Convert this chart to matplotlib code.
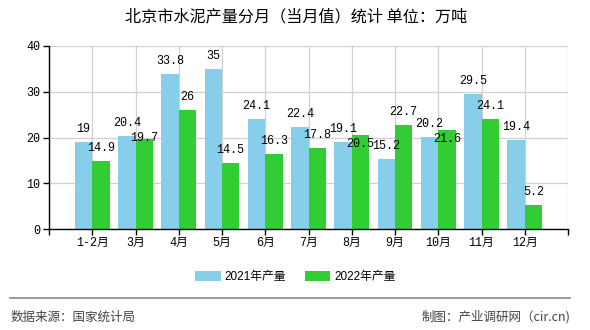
import matplotlib
matplotlib.use("Agg")
import matplotlib.pyplot as plt
from matplotlib.patches import Patch
import numpy as np

categories = ["1-2月", "3月", "4月", "5月", "6月", "7月", "8月", "9月", "10月", "11月", "12月"]
values_2021 = [19, 20.4, 33.8, 35, 24.1, 22.4, 19.1, 15.2, 20.2, 29.5, 19.4]
values_2022 = [14.9, 19.7, 26, 14.5, 16.3, 17.8, 20.5, 22.7, 21.6, 24.1, 5.2]
series_names = ["2021年产量", "2022年产量"]
y_ticks = [0, 10, 20, 30, 40]
title = "北京市水泥产量分月（当月值）统计 单位：万吨"
source_text = "数据来源：国家统计局"
maker_text = "制图：产业调研网（cir.cn)"

c2021 = "#87CEEB"
c2022 = "#32CD32"
cjk = ["Noto Sans CJK SC", "DejaVu Sans"]
mono = ["Liberation Mono", "Noto Sans CJK SC"]

DPI = 100
fig = plt.figure(figsize=(5.9, 3.3), dpi=DPI)
ax = fig.add_axes([49/590, 1-229/330, (568-49)/590, (229-46)/330])

x = np.arange(len(categories))
w = 0.4
b1 = ax.bar(x - w/2, values_2021, width=w, color=c2021, zorder=2)
b2 = ax.bar(x + w/2, values_2022, width=w, color=c2022, zorder=2)

ymax = 40
px_per_unit = (229 - 46) / ymax
off_px = 13.0
pt = 72.0 / DPI

for rect, v in zip(b1, values_2021):
    ax.annotate(f"{v:g}", (rect.get_x() + rect.get_width()/2, v),
                xytext=(0, off_px * pt), textcoords="offset points",
                ha="center", va="center", fontsize=8.5, family=mono, zorder=3)

for rect, v, vb in zip(b2, values_2022, values_2021):
    # simple overlap avoidance: shift green label below the blue one
    y_green = v * px_per_unit + off_px
    y_blue = vb * px_per_unit + off_px
    if abs(y_green - y_blue) < 14:
        dy = (y_blue - 15) - v * px_per_unit
    else:
        dy = off_px
    ax.annotate(f"{v:g}", (rect.get_x() + rect.get_width()/2, v),
                xytext=(0, dy * pt), textcoords="offset points",
                ha="center", va="center", fontsize=8.5, family=mono, zorder=3)

ax.set_xlim(-1, len(categories))
ax.set_ylim(0, ymax)
ax.set_xticks(np.arange(-1, len(categories) + 1))
ax.set_xticklabels([""] + categories + [""], family=mono, fontsize=8.5)
ax.set_yticks(y_ticks)
ax.set_yticklabels([str(t) for t in y_ticks], family=mono, fontsize=8.5)
ax.grid(True, color="#d0d0d0", linewidth=0.9, zorder=0)
ax.set_axisbelow(True)
for s in ("top", "right"):
    ax.spines[s].set_visible(False)
for s in ("left", "bottom"):
    ax.spines[s].set_color("#000000")
    ax.spines[s].set_linewidth(1.0)
ax.tick_params(axis="both", length=4, width=1, color="#000000", pad=2)

fig.text(296/590, 1-17/330, title, ha="center", va="center", fontsize=11.6, family=cjk)

handles = [Patch(facecolor=c2021), Patch(facecolor=c2022)]
fig.legend(handles, series_names, loc="center", bbox_to_anchor=(295/590, 1-277/330),
           ncol=2, frameon=False, prop={"family": ["Liberation Sans", "Noto Sans CJK SC"], "size": 8.5},
           handlelength=2.2, handleheight=1.0, handletextpad=0.3, columnspacing=1.6)

fig.add_artist(plt.Line2D([10/590, 570/590], [1-298/330, 1-298/330], color="#888888", linewidth=1.2))
fig.text(11/590, 1-317/330, source_text, ha="left", va="center", fontsize=9, family=cjk, color="#444444")
fig.text(570/590, 1-317/330, maker_text, ha="right", va="center", fontsize=9, family=cjk, color="#444444")

fig.savefig("out.png", dpi=DPI)
